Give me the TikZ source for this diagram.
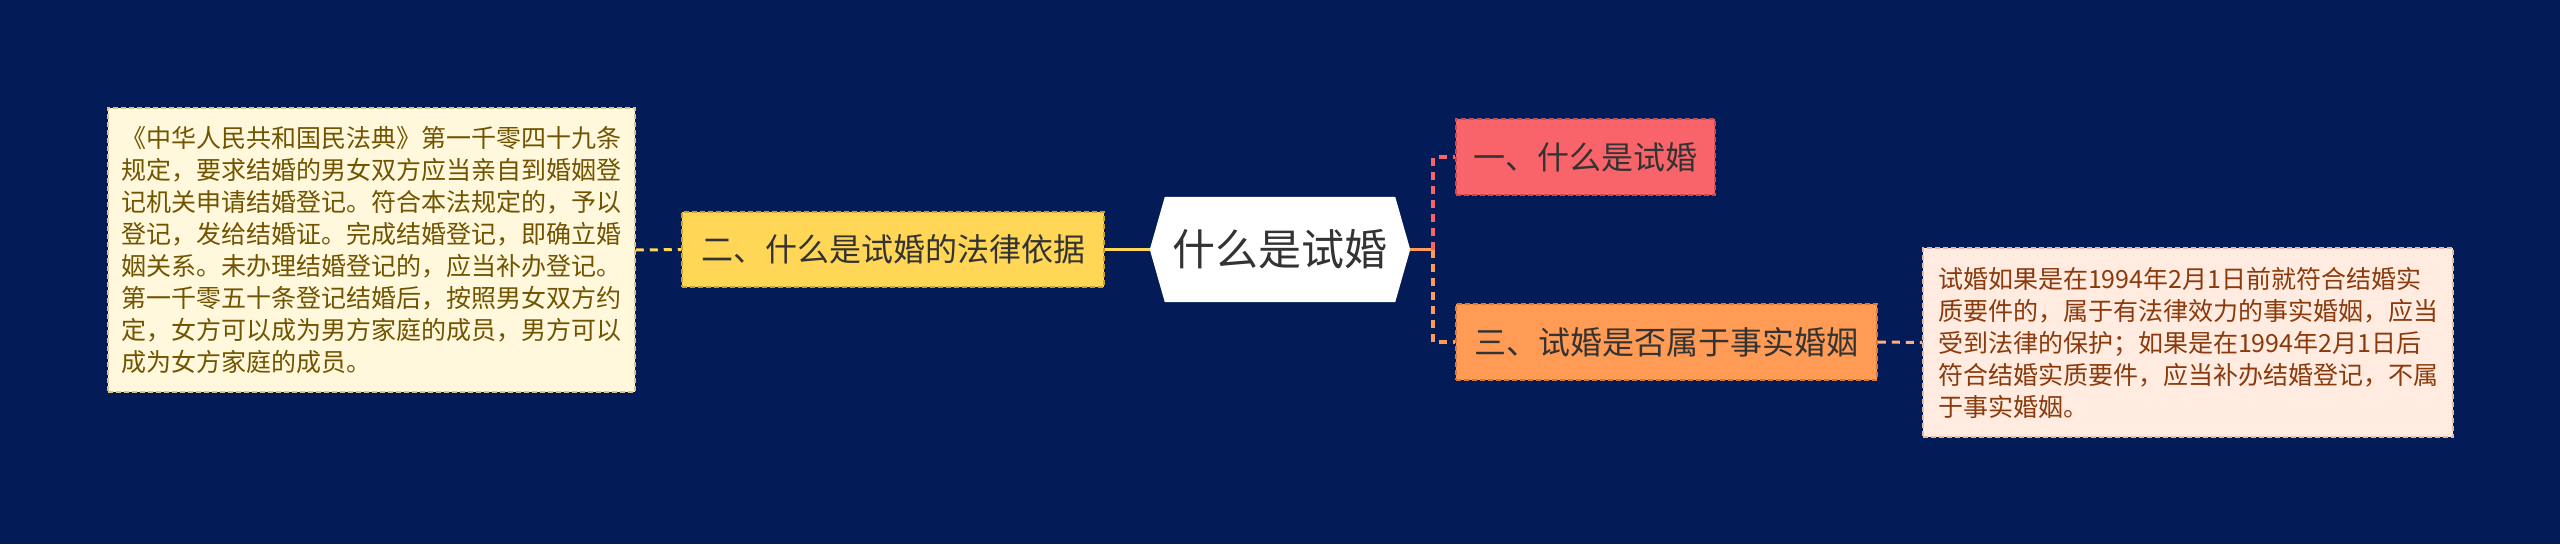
\documentclass[tikz,border=0pt]{standalone}
\usepackage{fontspec}
\setmainfont{Noto Sans CJK SC}
\usetikzlibrary{calc}
\definecolor{bgnavy}{HTML}{031B56}
\definecolor{ltfill}{HTML}{FFF8DD}
\definecolor{ltdraw}{HTML}{D8C58E}
\definecolor{lttext}{HTML}{725400}
\definecolor{rtfill}{HTML}{FFEBDF}
\definecolor{rtdraw}{HTML}{E2BBA5}
\definecolor{rttext}{HTML}{8A3A0C}
\definecolor{yel}{HTML}{FFD655}
\definecolor{yeldraw}{HTML}{C9A230}
\definecolor{red1}{HTML}{F9646A}
\definecolor{reddraw}{HTML}{D2474E}
\definecolor{ora}{HTML}{FF9B55}
\definecolor{oradraw}{HTML}{D8783A}
\definecolor{ink}{HTML}{333333}
\pgfdeclarelayer{back}\pgfdeclarelayer{hexl}
\pgfsetlayers{back,hexl,main}
\begin{document}
\begin{tikzpicture}[x=1pt,y=-1pt,
  box/.style={rectangle, draw, dash pattern=on 5pt off 3pt, line width=1.5pt, inner sep=0pt},
  note/.style={box, align=left, text width=500pt, font=\fontsize{25}{32}\selectfont},
  topic/.style={box, minimum height=76pt, text=ink, font=\fontsize{32}{38}\selectfont},
  dashlink/.style={line width=3pt, dash pattern=on 8pt off 6pt},
  vlink/.style={line width=3.5pt, dash pattern=on 8pt off 6pt},
  solidlink/.style={line width=3.5pt}]
\useasboundingbox (0,0) rectangle (2560,544);
\begin{pgfonlayer}{back}
\fill[bgnavy] (0,0) rectangle (2560,544);
\end{pgfonlayer}

% nodes
\node[note, fill=ltfill, draw=ltdraw, text=lttext, minimum width=527pt, minimum height=284pt] (L) at (371.5,250) {《中华人民共和国民法典》第一千零四十九条\\规定，要求结婚的男女双方应当亲自到婚姻登\\记机关申请结婚登记。符合本法规定的，予以\\登记，发给结婚证。完成结婚登记，即确立婚\\姻关系。未办理结婚登记的，应当补办登记。\\第一千零五十条登记结婚后，按照男女双方约\\定，女方可以成为男方家庭的成员，男方可以\\成为女方家庭的成员。};
\node[topic, fill=yel, draw=yeldraw, minimum width=422pt, minimum height=75pt] (Y) at (893,249.5) {二、什么是试婚的法律依据};
\node[inner sep=0pt, minimum width=260pt, minimum height=105pt, text=ink, font=\fontsize{43}{50}\selectfont] (C) at (1280,249.5) {什么是试婚};
\begin{pgfonlayer}{hexl}
\fill[white] (C.west) -- ([xshift=15pt]C.north west) -- ([xshift=-15pt]C.north east) -- (C.east) -- ([xshift=-15pt]C.south east) -- ([xshift=15pt]C.south west) -- cycle;
\end{pgfonlayer}
\node[topic, fill=red1, draw=reddraw, minimum width=259pt] (R) at (1585.5,157) {一、什么是试婚};
\node[topic, fill=ora, draw=oradraw, minimum width=421pt] (O) at (1666.5,342) {三、试婚是否属于事实婚姻};
\node[note, fill=rtfill, draw=rtdraw, text=rttext, minimum width=530pt, minimum height=189pt] (N) at (2188,342.5) {试婚如果是在1994年2月1日前就符合结婚实\\质要件的，属于有法律效力的事实婚姻，应当\\受到法律的保护；如果是在1994年2月1日后\\符合结婚实质要件，应当补办结婚登记，不属\\于事实婚姻。};

% junctions
\coordinate (J) at (1433,249.5);
\coordinate (JR) at (1433,157);
\coordinate (JO) at (1433,342);

% connectors
\draw[dashlink, draw=yel] (L.east) -- (Y.west);
\draw[solidlink, draw=yel] (Y.east) -- (C.west);
\draw[solidlink, draw=ora] (C.east) -- (J);
\draw[vlink, draw=red1] (J) -- (JR) -- (R.west);
\draw[vlink, draw=ora] (J) -- (JO) -- (O.west);
\draw[dashlink, draw=ora!80!white] (O.east) -- (N.west);
\end{tikzpicture}
\end{document}
